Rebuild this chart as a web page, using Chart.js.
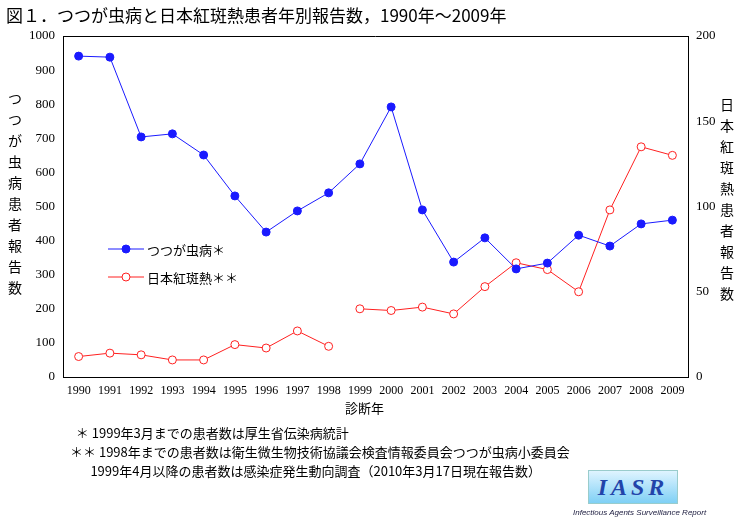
<!DOCTYPE html>
<html><head><meta charset="utf-8">
<script src="https://cdn.jsdelivr.net/npm/chart.js@4"></script>
<style>
body{margin:0;width:745px;height:530px;background:#fff;position:relative;overflow:hidden;font-family:"Liberation Serif","Noto Sans CJK JP",serif;}
#c{position:absolute;left:0;top:0;}
.t{position:absolute;color:#000;}
.v{position:absolute;font-size:14px;line-height:21px;width:16px;text-align:center;font-family:"Noto Sans CJK JP";}
</style></head><body>
<canvas id="c" width="745" height="530"></canvas>
<div class="t" style="left:6px;top:2px;font-size:17px;font-family:'Noto Sans CJK JP';">図１．つつが虫病と日本紅斑熱患者年別報告数，1990年～2009年</div>
<div class="v" style="left:7px;top:88px;">つ<br>つ<br>が<br>虫<br>病<br>患<br>者<br>報<br>告<br>数</div>
<div class="v" style="left:719px;top:94px;">日<br>本<br>紅<br>斑<br>熱<br>患<br>者<br>報<br>告<br>数</div>
<div class="t" style="left:345px;top:398px;font-size:13px;font-family:'Noto Sans CJK JP';">診断年</div>
<div class="t" style="left:108px;top:236px;font-size:13px;font-family:'Noto Sans CJK JP';white-space:nowrap;line-height:28px;">
<svg width="36" height="12"><line x1="0" y1="6" x2="36" y2="6" stroke="#1a1aff"/><circle cx="18" cy="6" r="4" fill="#1a1aff" stroke="#1a1aff"/></svg> つつが虫病＊<br>
<svg width="36" height="12"><line x1="0" y1="6" x2="36" y2="6" stroke="#ff2020"/><circle cx="18" cy="6" r="4" fill="#fff" stroke="#ff2020"/></svg> 日本紅斑熱＊＊</div>
<div class="t" style="left:70px;top:423px;font-size:13px;line-height:19px;font-family:'Noto Sans CJK JP';white-space:nowrap;">
&nbsp;&nbsp;＊ 1999年3月までの患者数は厚生省伝染病統計<br>
＊＊ 1998年までの患者数は衛生微生物技術協議会検査情報委員会つつが虫病小委員会<br>
&nbsp;&nbsp;&nbsp;&nbsp;&nbsp;&nbsp;&nbsp;1999年4月以降の患者数は感染症発生動向調査（2010年3月17日現在報告数）</div>
<div class="t" style="left:588px;top:470px;width:88px;height:32px;background:linear-gradient(#dff4ff,#7fd0f5);border:1px solid #9cc;color:#2244aa;font:italic bold 24px 'Liberation Serif';text-align:center;line-height:32px;letter-spacing:4px;">IASR</div>
<div class="t" style="left:573px;top:508px;font:italic 8px 'Liberation Sans';color:#224;">Infectious Agents Surveillance Report</div>
<script>
const years=['1990','1991','1992','1993','1994','1995','1996','1997','1998','1999','2000','2001','2002','2003','2004','2005','2006','2007','2008','2009'];
const tsutsugamushi=[941,938,704,713,651,531,425,487,540,625,792,490,337,408,317,334,416,384,449,460];
const sfgBefore1999=[12,14,13,10,10,19,17,27,18,null,null,null,null,null,null,null,null,null,null,null];
const sfgFrom1999=[null,null,null,null,null,null,null,null,null,40,39,41,37,53,67,63,50,98,135,130];
const font={family:'Liberation Serif',size:13};
new Chart(document.getElementById('c'),{type:'line',
data:{labels:years,datasets:[
{data:tsutsugamushi,yAxisID:'y',borderColor:'#1a1aff',backgroundColor:'#1a1aff',borderWidth:1,pointRadius:4,tension:0},
{data:sfgBefore1999,yAxisID:'y2',borderColor:'#ff2020',backgroundColor:'#fff',borderWidth:1,pointRadius:4,spanGaps:false,tension:0},
{data:sfgFrom1999,yAxisID:'y2',borderColor:'#ff2020',backgroundColor:'#fff',borderWidth:1,pointRadius:4,spanGaps:false,tension:0}]},
options:{responsive:false,animation:false,layout:{padding:{left:0,right:0,top:36,bottom:128}},
plugins:{legend:{display:false},tooltip:{enabled:false}},
scales:{
x:{offset:true,grid:{display:false,drawTicks:true,tickLength:5,color:'#000'},border:{color:'#000'},ticks:{color:'#000',font:{family:'Liberation Serif',size:12},maxRotation:0,autoSkip:false,padding:2},afterFit:s=>{s.height=25;}},
y:{position:'left',min:0,max:1000,ticks:{stepSize:100,color:'#000',font,callback:v=>String(v)},grid:{display:false,tickLength:5,color:'#000'},border:{color:'#000'},afterFit:s=>{s.width=63;}},
y2:{position:'right',min:0,max:200,ticks:{stepSize:50,color:'#000',font,callback:v=>String(v)},grid:{display:false,tickLength:5,color:'#000'},border:{color:'#000'},afterFit:s=>{s.width=57;}}
}},
plugins:[{id:'top',afterDraw(c){const a=c.chartArea,x=c.ctx;x.save();x.strokeStyle='#000';x.lineWidth=1;x.beginPath();x.moveTo(a.left,a.top+0.5);x.lineTo(a.right,a.top+0.5);x.stroke();x.restore();}}]
});
</script></body></html>
